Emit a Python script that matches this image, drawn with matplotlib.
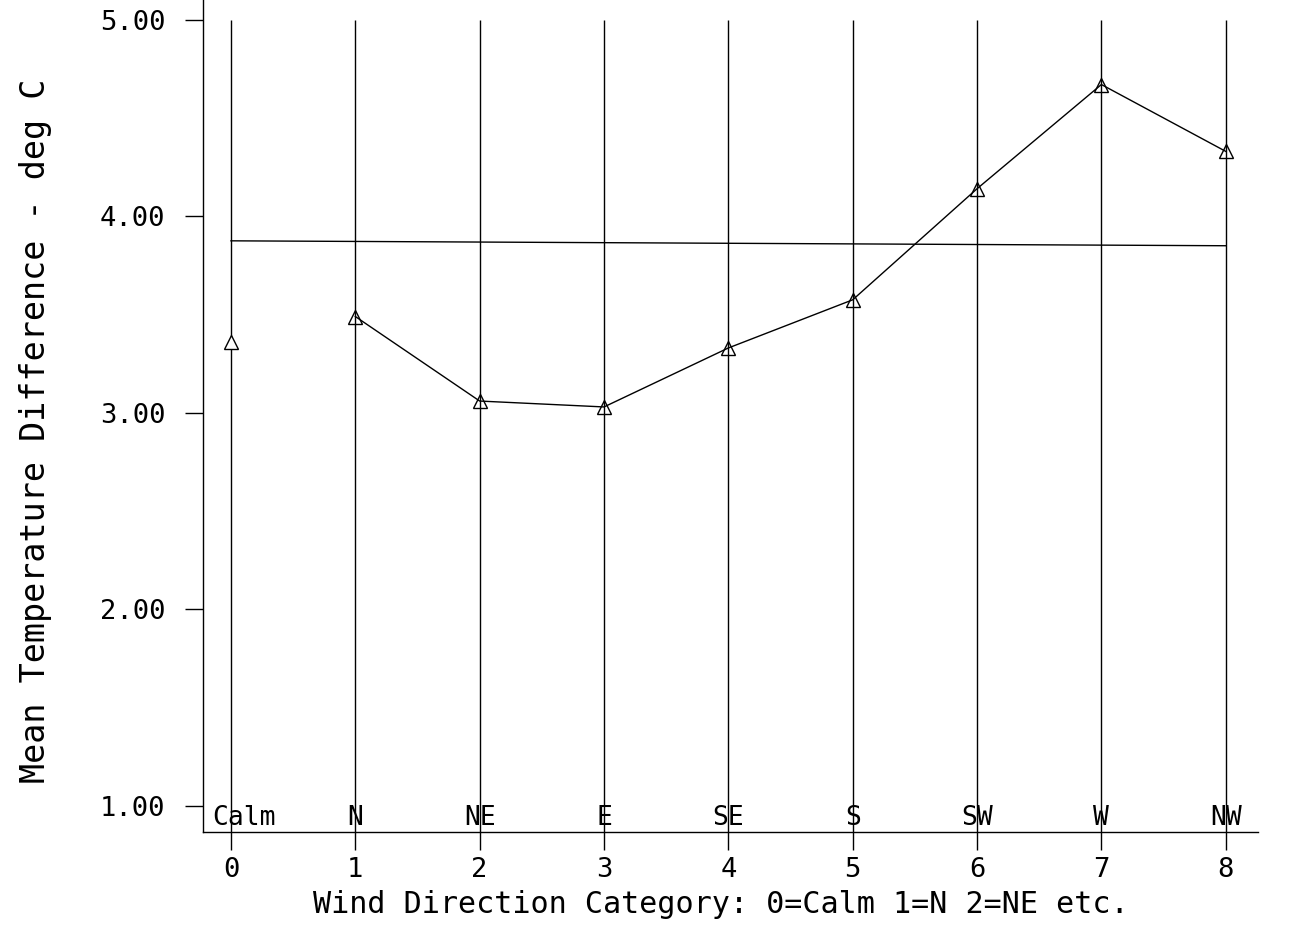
import matplotlib
matplotlib.use("Agg")
from matplotlib import pyplot as plt

# data
categories = [0, 1, 2, 3, 4, 5, 6, 7, 8]
directions = ["Calm", "N", "NE", "E", "SE", "S", "SW", "W", "NW"]
mean_diff = [3.36, 3.49, 3.06, 3.03, 3.33, 3.575, 4.14, 4.67, 4.33]
overall_x = [0, 8]
overall_y = [3.875, 3.85]
yticks = [1.0, 2.0, 3.0, 4.0, 5.0]

plt.rcParams["font.family"] = ["DejaVu Sans Mono"]

fig = plt.figure(figsize=(12.89, 9.30), dpi=100)
ax = fig.add_axes([0.1575, 0.1054, 0.976 - 0.1575, 1.0 - 0.1054])

ymin, ymax = 0.868, 5.10
ax.set_xlim(-0.225, 8.26)
ax.set_ylim(ymin, ymax)

# vertical category lines
ax.vlines(categories, ymin, 5.0, color="black", lw=1.0)

# overall mean line
ax.plot(overall_x, overall_y, color="black", lw=1.0)

# calm point on its own, the rest joined
ax.plot(categories[:1], mean_diff[:1], marker="^", ms=10.5, mfc="white",
        mec="black", mew=1.0, ls="none")
ax.plot(categories[1:], mean_diff[1:], color="black", lw=1.0, marker="^",
        ms=10.5, mfc="none", mec="black", mew=1.0)

# direction names just above the axis
for c, d in zip(categories, directions):
    if d == "Calm":
        ax.text(c - 0.15, 0.94, d, ha="left", va="center", fontsize=19)
    else:
        ax.text(c, 0.94, d, ha="center", va="center", fontsize=19)

ax.spines["top"].set_visible(False)
ax.spines["right"].set_visible(False)
for s in ("left", "bottom"):
    ax.spines[s].set_linewidth(1.0)

ax.set_xticks(categories)
ax.set_xticklabels([str(c) for c in categories])
ax.set_yticks(yticks)
ax.set_yticklabels(["%.2f" % v for v in yticks])
ax.tick_params(axis="both", direction="out", length=13, width=1.0,
               labelsize=19.5, pad=5)
ax.tick_params(axis="y", pad=14)

ax.set_xlabel("Wind Direction Category: 0=Calm 1=N 2=NE etc.", fontsize=21.7)
ax.xaxis.set_label_coords(0.491, -0.07)
ax.set_ylabel("Mean Temperature Difference - deg C", fontsize=24)
ax.yaxis.set_label_coords(-0.143, 0.482)

plt.savefig("out.png", dpi=100)
